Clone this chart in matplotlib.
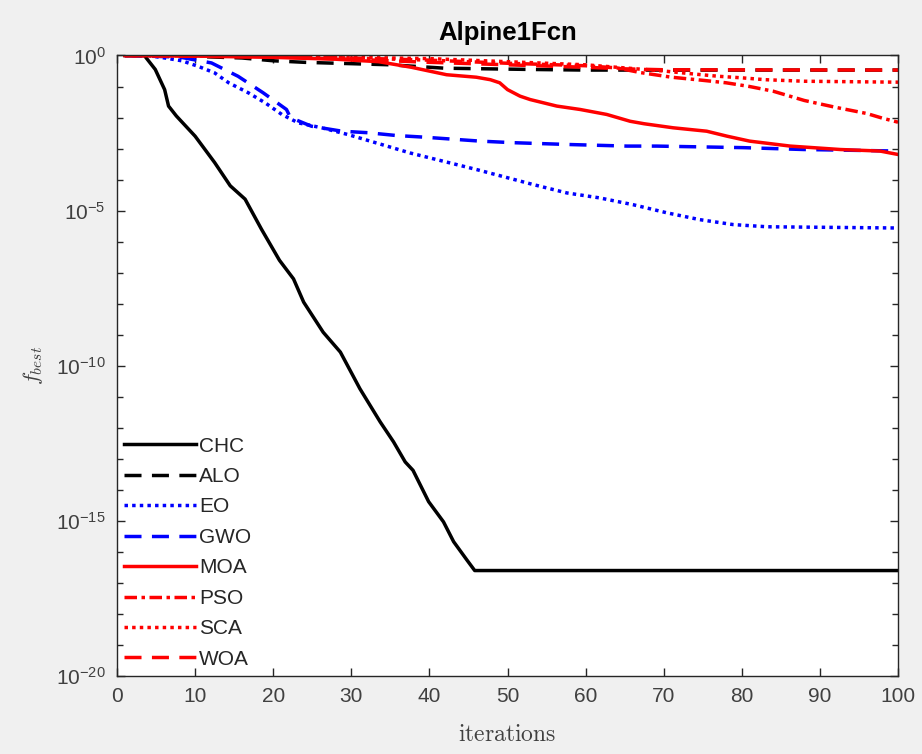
import matplotlib.pyplot as plt
import numpy as np

plt.rcParams['font.family'] = ['Liberation Sans', 'DejaVu Sans']
plt.rcParams['mathtext.fontset'] = 'cm'

# best-so-far fitness per algorithm, stored as log10 values at read iterations
chc_it = [1, 3.5, 4.9, 6.1, 6.6, 7.6, 10, 12.5, 14.5, 16.4, 18.5, 20.8, 22.6, 23.9, 26.4,
          28.6, 31.1, 33.7, 35.4, 36.9, 37.9, 39.9, 41.8, 43.1, 44.8, 45.8, 100]
chc_log = [0, 0, -0.45, -1.1, -1.63, -1.95, -2.6, -3.45, -4.2, -4.63, -5.6, -6.6, -7.2, -7.95, -8.92,
           -9.56, -10.74, -11.81, -12.45, -13.1, -13.37, -14.38, -15.03, -15.67, -16.26, -16.6, -16.6]

alo_it = [1, 10, 16, 20, 24, 35, 42, 53, 60, 100]
alo_log = [0, -0.03, -0.08, -0.17, -0.22, -0.3, -0.41, -0.45, -0.47, -0.47]

eo_it = [1, 4, 6.1, 8.3, 10.4, 12.5, 14.3, 16.8, 19, 21.1, 23.2, 26.2, 29.6, 33.9, 37.5,
         41.8, 46.1, 49.4, 53.3, 57.6, 61.8, 66.1, 70.4, 74.6, 78.9, 83.2, 100]
eo_log = [0, 0, -0.08, -0.17, -0.35, -0.56, -0.88, -1.2, -1.53, -1.9, -2.17, -2.33, -2.55, -2.87, -3.14,
          -3.41, -3.68, -3.9, -4.16, -4.43, -4.59, -4.81, -5.07, -5.29, -5.45, -5.52, -5.56]

gwo_it = [1, 8, 12.1, 15.5, 18.7, 21.7, 22.2, 24.9, 28.8, 32.2, 35.8, 39.2, 46.5, 50.7, 58,
          65.3, 69.1, 80.2, 87.9, 100]
gwo_log = [0, -0.05, -0.24, -0.67, -1.2, -1.74, -2.0, -2.28, -2.44, -2.49, -2.58, -2.63, -2.76, -2.81, -2.87,
           -2.92, -2.92, -2.97, -3.03, -3.08]

moa_it = [1, 10, 20, 28, 33.5, 37.7, 42.2, 46, 47.8, 49, 50, 51.6, 52.9, 56.3, 59.3, 62.7,
          65.7, 67.5, 71.2, 75.5, 78.1, 81, 86.2, 92.6, 97.7, 100]
moa_log = [0, -0.02, -0.06, -0.12, -0.2, -0.38, -0.62, -0.7, -0.78, -0.88, -1.1, -1.31, -1.42, -1.63, -1.74, -1.9,
           -2.12, -2.2, -2.33, -2.44, -2.6, -2.76, -2.92, -3.03, -3.08, -3.19]

pso_it = [1, 20, 30, 40, 50, 60, 64, 67, 71, 75, 78, 81, 84, 88, 92, 96, 98, 100]
pso_log = [0, -0.03, -0.08, -0.15, -0.25, -0.33, -0.4, -0.55, -0.7, -0.8, -0.88, -1.0, -1.15, -1.45,
           -1.67, -1.87, -2.02, -2.15]

sca_it = [1, 20, 40, 50, 60, 70, 74, 77, 80, 83, 88, 100]
sca_log = [0, -0.02, -0.1, -0.2, -0.3, -0.5, -0.6, -0.67, -0.72, -0.78, -0.83, -0.86]

woa_it = [1, 20, 30, 40, 50, 60, 65, 70, 100]
woa_log = [0, -0.05, -0.12, -0.22, -0.3, -0.38, -0.43, -0.46, -0.47]

dashed = (0, (4.9, 3.0))
dotted = (0, (1, 1.2))
dashdot = (0, (3.6, 1.3, 1, 1.3))

series = [
    ('CHC', chc_it, chc_log, 'k', '-'),
    ('ALO', alo_it, alo_log, 'k', dashed),
    ('EO', eo_it, eo_log, 'b', dotted),
    ('GWO', gwo_it, gwo_log, 'b', dashed),
    ('MOA', moa_it, moa_log, 'r', '-'),
    ('PSO', pso_it, pso_log, 'r', dashdot),
    ('SCA', sca_it, sca_log, 'r', dotted),
    ('WOA', woa_it, woa_log, 'r', dashed),
]

fig = plt.figure(figsize=(9.22, 7.54), dpi=100, facecolor='#f0f0f0')
ax = fig.add_axes([0.1269, 0.1034, 0.8471, 0.8230])
ax.set_facecolor('white')

for name, it, lg, col, ls in series:
    ax.semilogy(it, 10.0 ** np.array(lg), color=col, linestyle=ls, linewidth=2.5, label=name)

ax.set_xlim(0, 100)
ax.set_ylim(1e-20, 1e0)
ax.set_xticks(np.arange(0, 101, 10))
ax.set_yticks([1e-20, 1e-15, 1e-10, 1e-5, 1e0])
ax.set_yticks([10.0 ** k for k in range(-20, 1)], minor=True)
ax.yaxis.set_minor_formatter(plt.NullFormatter())
ax.set_yticklabels([r'$\mathdefault{10^{%d}}$' % k for k in [-20, -15, -10, -5, 0]])

ax.tick_params(which='both', direction='in', top=True, right=True,
               colors='#262626', labelcolor='#404040', labelsize=15, width=1)
ax.tick_params(which='major', length=6, pad=8)
ax.tick_params(which='minor', length=4)
ax.tick_params(axis='x', which='minor', bottom=False, top=False)
for sp in ax.spines.values():
    sp.set_color('#262626')
    sp.set_linewidth(1)

ax.set_title('Alpine1Fcn', fontsize=18.5, fontweight='bold', color='black', pad=11)
ax.set_xlabel(r'$\mathrm{iterations}$', fontsize=17, color='#404040', labelpad=13)
ax.set_ylabel(r'$f_{best}$', fontsize=16, color='#404040', labelpad=8)

ax.legend(loc='lower left', bbox_to_anchor=(0.0, 0.0), frameon=False, fontsize=15,
          handlelength=3.45, handletextpad=0.15, labelspacing=0.55, borderpad=0.2,
          borderaxespad=0.15, labelcolor='#262626')

fig.savefig('out.png', dpi=100, facecolor=fig.get_facecolor())
